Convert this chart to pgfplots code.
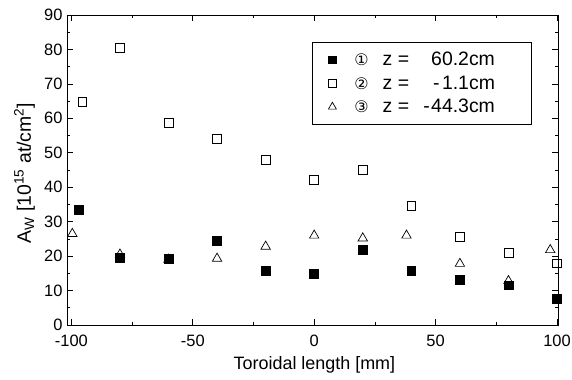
\documentclass[border=0pt]{standalone}
\usepackage{fontspec}
\setmainfont{Liberation Sans}
\newfontfamily\dejavu{DejaVu Sans}
\usepackage{pgfplots}
\pgfplotsset{compat=1.18}
\newcommand{\circnum}[1]{{\dejavu\fontsize{16}{17}\selectfont #1}}
\begin{document}
\begin{tikzpicture}
\begin{axis}[
  scale only axis,
  width=491bp, height=310bp,
  xmin=-101.8, xmax=100.4,
  ymin=0, ymax=90,
  xtick={-100,-50,0,50,100},
  minor xtick={-75,-25,25,75},
  ytick={0,10,...,90},
  minor ytick={5,15,...,85},
  tick align=inside,
  major tick length=6bp,
  minor tick length=3.5bp,
  axis line style={line width=0.8bp},
  every tick/.style={line width=0.7bp, black},
  tick label style={font=\fontsize{16.5}{18}\selectfont},
  xticklabel style={yshift=-7bp},
  yticklabel style={xshift=-1bp},
  /pgf/number format/assume math mode=true,
  xlabel={Toroidal length [mm]},
  ylabel={A\textsubscript{W} [10\textsuperscript{15} at/cm\textsuperscript{2}]},
  every axis x label/.style={at={(axis description cs:0.504,0)}, yshift=-44bp, anchor=base, font=\fontsize{18}{20}\selectfont},
  every axis y label/.style={at={(axis description cs:0,0.49)}, xshift=-36bp, rotate=90, anchor=base, font=\fontsize{19.5}{21}\selectfont},
  legend style={at={(0.499,0.913)}, anchor=north west, draw=black, line width=0.8bp,
    font=\fontsize{19.5}{21}\selectfont, inner xsep=3bp, inner ysep=7bp,
    row sep=2.5bp, cells={anchor=west}, nodes={inner ysep=3bp, inner xsep=3bp}},
  legend image code/.code={\path[draw=none,fill=none] (0bp,0bp) (34bp,0bp);
    \draw[#1,every mark/.append style={scale=0.85}] plot coordinates {(17bp,0bp)};},
]
\addplot[only marks, mark=square*, mark size=4.4bp, black, line width=0.7bp] coordinates {
(-97,33.5) (-80,19.6) (-60,19.3) (-40,24.4) (-20,15.8) (0,14.9) (20,21.8) (40,15.8) (60,13) (80,11.5) (100,7.6)};
\addlegendentry{\makebox[173bp][l]{\hspace{2bp}\circnum{①}\hspace{14bp}z = \makebox[80.4bp][r]{60.2cm}}}
\addplot[only marks, mark=square, mark size=4.4bp, black, line width=0.7bp] coordinates {
(-95.5,64.8) (-80,80.5) (-60,58.8) (-40,54.1) (-20,47.9) (0,42.1) (20,45) (40,34.7) (60,25.6) (80,21) (100,17.9)};
\addlegendentry{\makebox[173bp][l]{\hspace{2bp}\circnum{②}\hspace{14bp}z = \makebox[80.4bp][r]{-\hspace{2.5bp}1.1cm}}}
\addplot[only marks, mark=triangle, mark size=5.4bp, black, line width=0.7bp] coordinates {
(-99.6,26.5) (-80,20.5) (-60,19) (-40,19.3) (-20,22.8) (0,26) (20,25.2) (38,26) (60,17.8) (80,12.8) (97.2,21.8)};
\addlegendentry{\makebox[173bp][l]{\hspace{2bp}\circnum{③}\hspace{14bp}z = \makebox[80.4bp][r]{-\hspace{1.5bp}44.3cm}}}
\end{axis}
\pgfresetboundingbox
\path (current axis.south west) ++(-67bp,-55bp) rectangle ([shift={(14bp,15bp)}]current axis.north east);
\end{tikzpicture}
\end{document}
